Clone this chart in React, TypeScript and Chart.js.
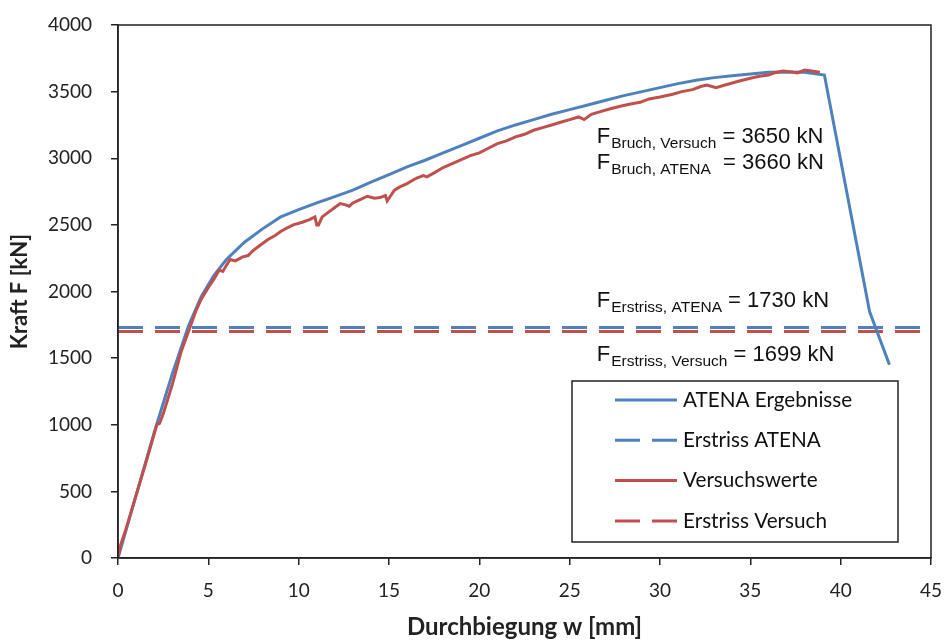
import React, { useEffect, useRef } from "react";
import { Chart, registerables } from "chart.js";

Chart.register(...registerables);

// ATENA Ergebnisse (Durchbiegung w [mm], Kraft F [kN])
const atenaW = [0, 0.3, 1, 2, 3, 3.9, 4.6, 5.3, 6, 7, 8, 9, 10, 11, 12, 13, 14, 15, 16, 17, 18, 19, 20, 21, 22, 23, 24, 25, 26, 27, 28, 29, 30, 31, 32, 33, 34, 35, 36, 37, 38, 39.1, 41.6, 42.7];
const atenaF = [0, 140, 470, 940, 1380, 1740, 1960, 2120, 2240, 2370, 2470, 2560, 2615, 2665, 2712, 2760, 2820, 2878, 2935, 2985, 3040, 3095, 3150, 3205, 3250, 3290, 3330, 3365, 3400, 3435, 3470, 3500, 3530, 3560, 3585, 3605, 3620, 3632, 3645, 3648, 3645, 3625, 1850, 1450];

// Versuchswerte
const versuchW = [0, 0.15, 0.4, 0.8, 1.2, 1.6, 2.0, 2.15, 2.3, 2.5, 3.0, 3.5, 3.9, 4.3, 4.6, 5.0, 5.3, 5.6, 5.8, 6.2, 6.5, 6.9, 7.2, 7.5, 8.0, 8.3, 8.7, 9.0, 9.4, 9.7, 10.2, 10.6, 10.9, 11.0, 11.1, 11.3, 11.6, 12.0, 12.3, 12.6, 12.8, 13.0, 13.4, 13.8, 14.2, 14.5, 14.8, 14.9, 15.0, 15.3, 15.6, 16.0, 16.5, 16.9, 17.1, 17.5, 18, 18.5, 19, 19.5, 20, 20.5, 21, 21.5, 22, 22.5, 23, 23.5, 24, 24.5, 25, 25.5, 25.8, 26.2, 26.7, 27.2, 27.8, 28.3, 28.9, 29.4, 30, 30.7, 31.2, 31.8, 32.3, 32.6, 33.1, 33.6, 34, 34.4, 35, 35.5, 36, 36.3, 36.8, 37.2, 37.6, 38.0, 38.4, 38.85];
const versuchF = [0, 100, 200, 380, 560, 740, 930, 1000, 1010, 1080, 1300, 1550, 1700, 1850, 1940, 2030, 2090, 2160, 2150, 2240, 2230, 2260, 2270, 2310, 2360, 2390, 2420, 2450, 2480, 2500, 2520, 2540, 2560, 2500, 2500, 2560, 2590, 2630, 2660, 2650, 2640, 2665, 2690, 2715, 2700, 2705, 2720, 2680, 2700, 2760, 2785, 2810, 2850, 2870, 2860, 2890, 2930, 2960, 2990, 3020, 3040, 3075, 3110, 3130, 3160, 3180, 3210, 3230, 3250, 3270, 3290, 3310, 3290, 3330, 3350, 3370, 3390, 3405, 3420, 3445, 3460, 3480, 3500, 3515, 3540, 3550, 3530, 3550, 3565, 3580, 3600, 3615, 3625, 3640, 3655, 3650, 3640, 3662, 3655, 3645];

// Erstriss levels
const erstrissAtena = 1730;
const erstrissVersuch = 1699;
const wRange = [0, 45];
const fRange = [0, 4000];
const wStep = 5;
const fStep = 500;

const legendLabels = ["ATENA Ergebnisse", "Erstriss ATENA", "Versuchswerte", "Erstriss Versuch"];

const noteMain = ["F", "F", "F", "F"];
const noteSub = ["Bruch, Versuch", "Bruch, ATENA", "Erstriss, ATENA", "Erstriss, Versuch"];
const noteRest = [" = 3650 kN", "  = 3660 kN", " = 1730 kN", " = 1699 kN"];
const noteW = [26.5, 26.5, 26.5, 26.5];
const noteF = [3115, 2920, 1880, 1475];

const BLUE = "#4F81BD";
const RED = "#C0504D";
const DASH = [25, 12];

const pts = (xs: number[], ys: number[]) => xs.map((x, i) => ({ x, y: ys[i] }));

const overlayPlugin = {
  id: "overlay",
  afterDraw(chart: any) {
    const ctx = chart.ctx as CanvasRenderingContext2D;
    const { left, right, top, bottom } = chart.chartArea;
    const xs = chart.scales.x;
    const ys = chart.scales.y;
    ctx.save();
    // frame
    ctx.strokeStyle = "#222";
    ctx.lineWidth = 1.5;
    ctx.strokeRect(left, top, right - left, bottom - top);

    // annotations
    ctx.fillStyle = "#111";
    ctx.textBaseline = "alphabetic";
    ctx.textAlign = "left";
    for (let i = 0; i < noteMain.length; i++) {
      let x = xs.getPixelForValue(noteW[i]);
      const y = ys.getPixelForValue(noteF[i]);
      ctx.font = "22px 'Liberation Sans', Arial, sans-serif";
      ctx.fillText(noteMain[i], x, y);
      x += ctx.measureText(noteMain[i]).width + 1;
      ctx.font = "15.5px 'Liberation Sans', Arial, sans-serif";
      ctx.fillText(noteSub[i], x, y + 5);
      x += ctx.measureText(noteSub[i]).width;
      ctx.font = "22px 'Liberation Sans', Arial, sans-serif";
      ctx.fillText(noteRest[i], x, y);
    }

    // legend
    const lx = left + 454;
    const ly = top + 356;
    const lw = 326;
    const lh = 161;
    ctx.fillStyle = "#fff";
    ctx.fillRect(lx, ly, lw, lh);
    ctx.strokeStyle = "#222";
    ctx.lineWidth = 1.5;
    ctx.strokeRect(lx, ly, lw, lh);
    const datasets = chart.data.datasets;
    for (let i = 0; i < legendLabels.length; i++) {
      const ds = datasets[i];
      const ry = ly + 19 + i * 40.3;
      ctx.strokeStyle = ds.borderColor;
      ctx.lineWidth = 3;
      ctx.setLineDash(ds.borderDash || []);
      ctx.beginPath();
      ctx.moveTo(lx + 43, ry);
      ctx.lineTo(lx + 105, ry);
      ctx.stroke();
      ctx.setLineDash([]);
      ctx.fillStyle = "#111";
      ctx.font = "20.7px Lato, sans-serif";
      ctx.textBaseline = "middle";
      ctx.fillText(legendLabels[i], lx + 111, ry);
    }
    ctx.restore();
  },
};

export default function App() {
  const ref = useRef<HTMLCanvasElement | null>(null);
  useEffect(() => {
    if (!ref.current) return;
    const chart = new Chart(ref.current, {
      type: "line",
      data: {
        datasets: [
          { label: legendLabels[0], data: pts(atenaW, atenaF), borderColor: BLUE, borderWidth: 3, pointRadius: 0, tension: 0, order: 2 },
          { label: legendLabels[1], data: pts(wRange, [erstrissAtena, erstrissAtena]), borderColor: BLUE, borderWidth: 3, borderDash: DASH, pointRadius: 0, order: 3 },
          { label: legendLabels[2], data: pts(versuchW, versuchF), borderColor: RED, borderWidth: 3, pointRadius: 0, tension: 0, order: 1 },
          { label: legendLabels[3], data: pts(wRange, [erstrissVersuch, erstrissVersuch]), borderColor: RED, borderWidth: 3, borderDash: DASH, pointRadius: 0, order: 4 },
        ] as any,
      },
      options: {
        responsive: false,
        animation: false,
        parsing: true,
        layout: { padding: { top: 25, right: 15, left: 0, bottom: 0 } },
        plugins: { legend: { display: false }, tooltip: { enabled: false }, title: { display: false } },
        scales: {
          x: {
            type: "linear",
            min: wRange[0],
            max: wRange[1],
            ticks: { stepSize: wStep, color: "#222", font: { family: "Lato", size: 19 }, padding: 14, maxRotation: 0, callback: (v: any) => String(v) },
            grid: { drawOnChartArea: false, drawTicks: true, tickLength: 7, color: "#222", lineWidth: 1.5 },
            border: { display: true, color: "#222", width: 1.5 },
            title: { display: true, text: "Durchbiegung w [mm]", color: "#222", font: { family: "Lato", size: 24, weight: "bold" }, padding: { top: 0, bottom: 0 } },
            afterFit: (s: any) => { s.height = 84; s.paddingLeft = 0; s.paddingRight = 0; },
          },
          y: {
            type: "linear",
            min: fRange[0],
            max: fRange[1],
            ticks: { stepSize: fStep, color: "#222", font: { family: "Lato", size: 19 }, padding: 19, callback: (v: any) => String(v) },
            grid: { drawOnChartArea: false, drawTicks: true, tickLength: 7, color: "#222", lineWidth: 1.5 },
            border: { display: true, color: "#222", width: 1.5 },
            title: { display: true, text: "Kraft F [kN]", color: "#222", font: { family: "Lato", size: 22, weight: "bold" }, padding: { top: 7, bottom: 0 } },
            afterFit: (s: any) => { s.width = 118; s.paddingTop = 0; s.paddingBottom = 0; },
          },
        },
      } as any,
      plugins: [overlayPlugin],
    });
    return () => chart.destroy();
  }, []);
  return (
    <div style={{ position: "absolute", left: 0, top: 0, width: 946, height: 642, background: "#fff" }}>
      <canvas ref={ref} width={946} height={642} style={{ width: 946, height: 642, display: "block" }} />
    </div>
  );
}
